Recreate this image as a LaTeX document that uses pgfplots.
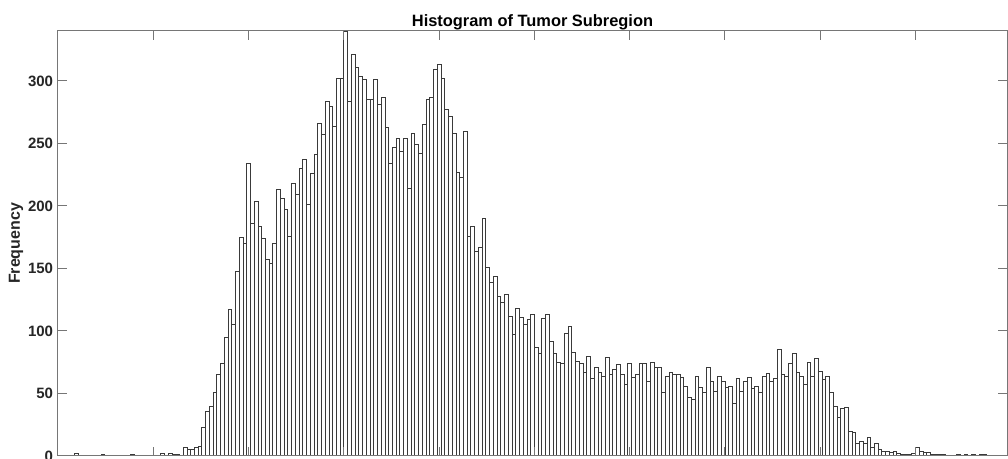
\documentclass[border=0pt]{standalone}
\usepackage{pgfplots}
\pgfplotsset{compat=1.18}
\usepackage{pgfplotstable}
\usepackage{fontspec}
\setmainfont{Liberation Sans}
\pgfplotstableread{
k y
5 2
12 1
20 1
28 2
30 2
31 1
32 1
34 7
35 5
36 5
37 7
38 8
39 23
40 36
41 40
42 51
43 65
44 74
45 95
46 117
47 105
48 148
49 175
50 170
51 234
52 186
53 204
54 184
55 174
56 157
57 154
58 170
59 213
60 206
61 197
62 176
63 218
64 209
65 230
66 237
67 201
68 226
69 241
70 266
71 257
72 284
73 280
74 264
75 302
76 302
77 340
78 284
79 321
80 311
81 304
82 301
83 285
84 285
85 301
86 281
87 287
88 263
89 234
90 247
91 254
92 244
93 254
94 214
95 258
96 249
97 242
98 265
99 285
100 287
101 309
102 313
103 302
104 277
105 272
106 258
107 227
108 223
109 260
110 176
111 184
112 164
113 167
114 190
115 151
116 139
117 144
118 128
119 123
120 129
121 112
122 97
123 118
124 111
125 105
126 109
127 113
128 87
129 82
130 110
131 113
132 92
133 82
134 75
135 74
136 98
137 104
138 83
139 76
140 74
141 67
142 80
143 62
144 71
145 67
146 64
147 79
148 65
149 69
150 73
151 65
152 57
153 74
154 63
155 65
156 74
157 74
158 60
159 75
160 71
161 71
162 51
163 64
164 67
165 65
166 65
167 63
168 56
169 47
170 45
171 64
172 55
173 51
174 71
175 60
176 52
177 64
178 60
179 55
180 56
181 42
182 62
183 52
184 60
185 63
186 54
187 56
188 51
189 64
190 66
191 60
192 62
193 85
194 65
195 64
196 74
197 82
198 67
199 64
200 57
201 75
202 64
203 78
204 68
205 61
206 64
207 51
208 40
209 31
210 38
211 39
212 20
213 19
214 10
215 12
216 10
217 15
218 7
219 10
220 5
221 4
222 4
223 3
224 4
225 2
226 1
227 1
228 1
229 2
230 7
231 4
232 3
233 3
234 1
235 1
236 1
237 1
241 1
243 1
245 1
247 1
248 1
}\histdata
\definecolor{axgray}{HTML}{767676}
\definecolor{bargray}{HTML}{3A3A3A}
\definecolor{txt}{HTML}{262626}
\begin{document}
\begin{tikzpicture}
\begin{axis}[
  name=ax,
  scale only axis,
  width=711.75pt, height=318.75pt,
  xmin=0, xmax=254, ymin=0, ymax=340,
  axis on top,
  axis line style={axgray, line width=0.75pt},
  tick style={axgray, line width=0.75pt},
  tick align=inside,
  major tick length=6.75pt,
  xtick={0,25.5,51,76.5,102,127.5,153,178.5,204,229.5},
  xticklabel=\empty,
  ytick={0,50,100,150,200,250,300},
  /pgf/number format/assume math mode=true,
  yticklabel style={font=\fontsize{11.25}{13}\selectfont\bfseries, text=txt, inner sep=0pt, xshift=-3.5pt},
  ylabel={Frequency},
  ylabel style={at={(axis description cs:0,0.5)}, anchor=center, yshift=31.5pt, font=\fontsize{12}{14}\selectfont\bfseries, text=txt},
  title={Histogram of Tumor Subregion},
  title style={at={(axis description cs:0.5,1)}, anchor=base, yshift=-3pt, font=\fontsize{12.3}{14}\selectfont\bfseries, text=black, inner sep=0pt},
]
\addplot[ybar, bar width=1, bar shift=0pt, fill=white, draw=bargray, line width=0.55pt] table[x=k, y=y] {\histdata};
\end{axis}
\pgfresetboundingbox
\path[use as bounding box] ([xshift=-43.5pt,yshift=-2.25pt]ax.south west) rectangle ([xshift=0.75pt,yshift=23.25pt]ax.north east);
\end{tikzpicture}
\end{document}
